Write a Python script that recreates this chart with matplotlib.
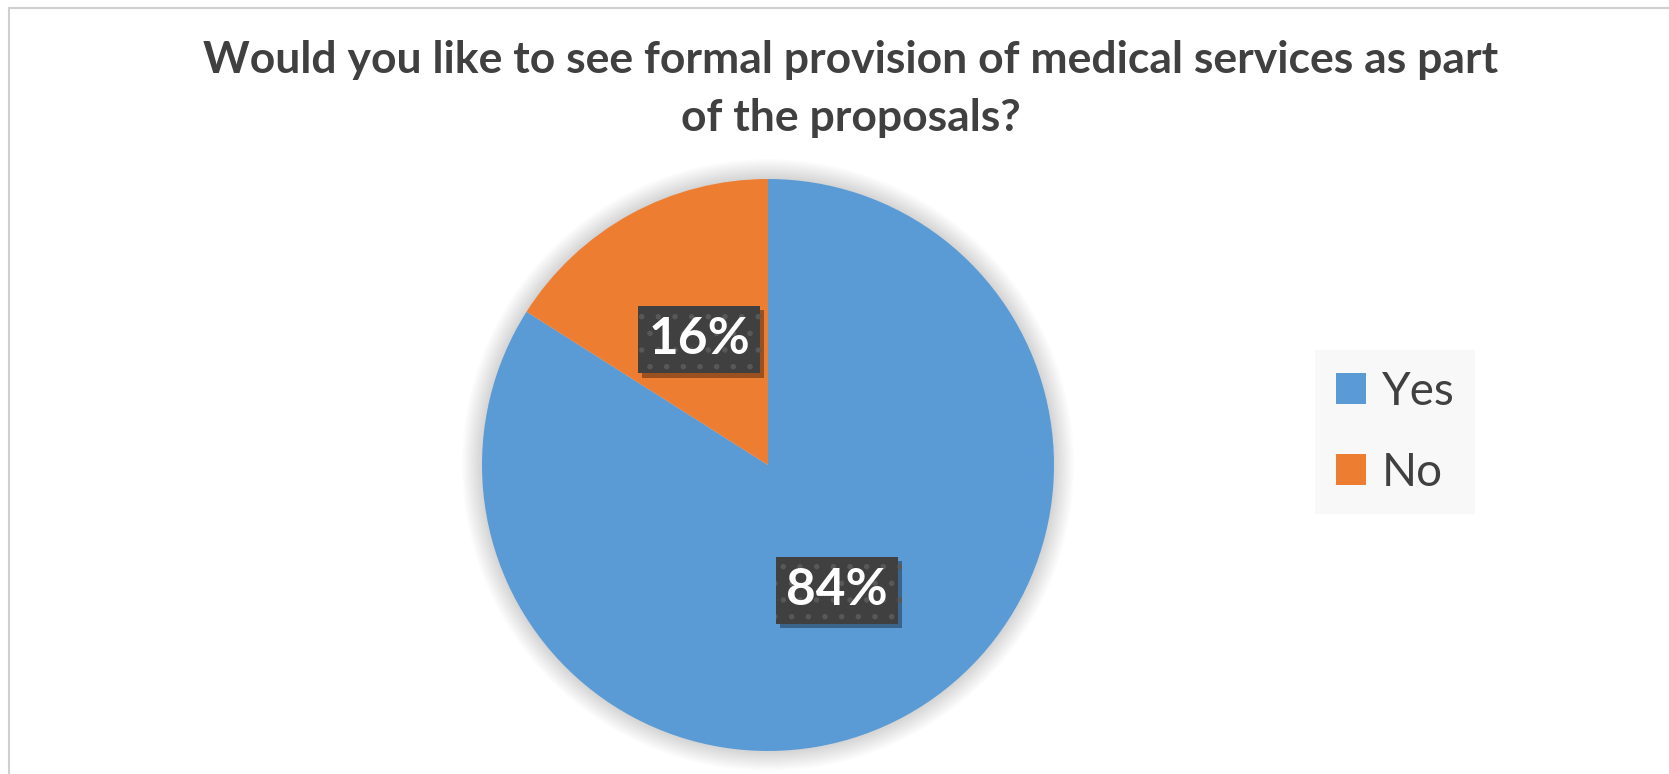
import matplotlib
matplotlib.use("Agg")
import matplotlib.pyplot as plt
import matplotlib.patheffects as pe
from matplotlib.lines import Line2D
from matplotlib.patches import Circle

plt.rcParams["font.family"] = ["Lato", "DejaVu Sans"]
plt.rcParams["hatch.linewidth"] = 1.5

# Data
title_lines = ["Would you like to see formal provision of medical services as part",
               "of the proposals?"]
labels = ["Yes", "No"]
values = [84, 16]
colors = ["#5B9BD5", "#ED7D31"]

W, H = 1669, 774
fig = plt.figure(figsize=(W / 100, H / 100), dpi=100)

# chart border (left and top only visible)
fig.add_artist(Line2D([9 / W, 9 / W], [-0.1, 1 - 8 / H], color="#d0d0d0", lw=1.5))
fig.add_artist(Line2D([9 / W, 1.1], [1 - 8 / H, 1 - 8 / H], color="#d0d0d0", lw=1.5))

# title
fig.text(851 / W, 1 - 73 / H, title_lines[0], ha="center", va="baseline",
         fontsize=32, fontweight="bold", color="#404040")
fig.text(851 / W, 1 - 131 / H, title_lines[1], ha="center", va="baseline",
         fontsize=32, fontweight="bold", color="#404040")

# pie
cx, cy, r = 768, 465, 286
ax = fig.add_axes([(cx - r) / W, (H - cy - r) / H, 2 * r / W, 2 * r / H])

# soft shadow around pie
for i in range(14):
    ax.add_patch(Circle((0, 0), 1 + 0.005 * (i + 1), color="k", alpha=0.012,
                        lw=0, clip_on=False, zorder=0))

wedges, texts, autotexts = ax.pie(values, colors=colors, startangle=90, counterclock=False,
                                  autopct="%1.0f%%", pctdistance=0.5, radius=1,
                                  wedgeprops=dict(linewidth=0))
ax.set_xlim(-1, 1)
ax.set_ylim(-1, 1)
ax.axis("off")

for t in autotexts:
    t.set_color("white")
    t.set_fontsize(37)
    t.set_fontweight("bold")
    t.set_bbox(dict(boxstyle="square,pad=0.2", facecolor="#404040",
                    edgecolor="#585858", linewidth=0, hatch="."))
    t.get_bbox_patch().set_path_effects(
        [pe.SimplePatchShadow(offset=(3, -3), shadow_rgbFace="k", alpha=0.35), pe.Normal()])

# legend
leg = fig.legend(wedges, labels, loc="upper left", bbox_to_anchor=(1315 / W, 1 - 350 / H),
                 borderaxespad=0, fontsize=33, frameon=True, fancybox=False,
                 handlelength=0.66, handleheight=0.66, handletextpad=0.35,
                 labelspacing=0.85, borderpad=0.45, labelcolor="#404040")
leg.get_frame().set_facecolor("#f7f7f7")
leg.get_frame().set_edgecolor("none")

fig.savefig("out.png", dpi=100)
